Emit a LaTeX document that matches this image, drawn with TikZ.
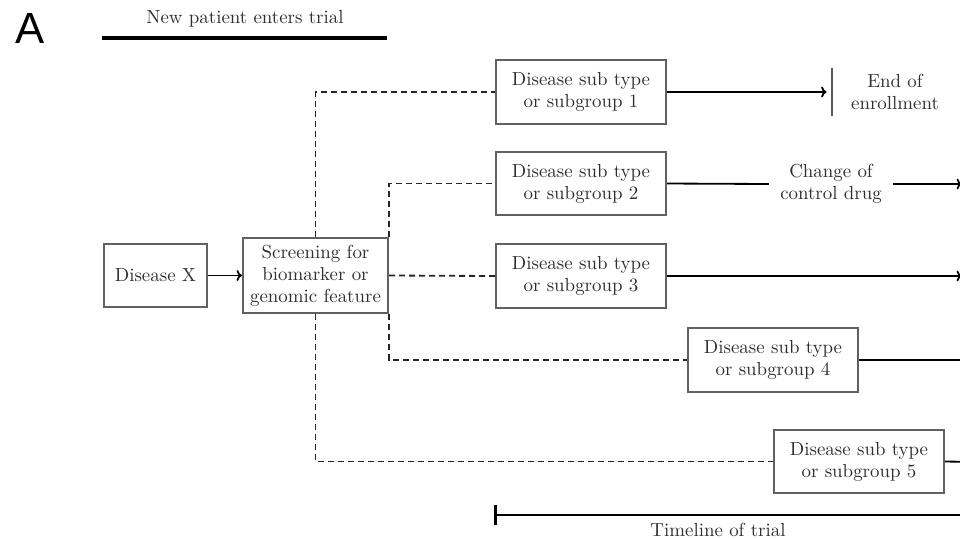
\documentclass[tikz,border=0pt]{standalone}
\usepackage{fontspec}
\newfontfamily\panelfont{Liberation Sans}
\usetikzlibrary{arrows.meta}
\begin{document}
\begin{tikzpicture}[x=0.55pt,y=-0.55pt,
  txt/.style={text=black!82, font=\fontsize{10.4}{12}\selectfont, align=center, inner sep=0pt},
  box/.style={txt, draw=black!62, line width=1.1pt, rectangle},
  subbox/.style={box, minimum width=93.5pt, minimum height=35pt},
  dashline/.style={dash pattern=on 3.3pt off 2.2pt, line width=1pt, black!85},
  flow/.style={line width=1pt, black},
  arr/.style={flow, -{To[length=3pt,width=6pt]}}]
\useasboundingbox (0,0) rectangle (960,538);
\clip (0,0) rectangle (960,538);

% panel letter and header
\node[font=\panelfont\fontsize{24}{28}\selectfont, inner sep=0pt] (panel) at (30.5,28) {A};
\node[txt] (newpat) at (245,19) {New patient enters trial};
\coordinate (hl) at (102,38);
\coordinate (hr) at (387,38);
\draw[line width=1.7pt] (hl) -- (hr);

% main boxes
\node[box, minimum width=56.6pt, minimum height=34.7pt] (dis) at (155.5,275.5) {Disease X};
\node[box, minimum width=79.8pt, minimum height=41.3pt] (scr) at (315.5,275.5) {Screening for\\biomarker or\\genomic feature};

\node[subbox] (s1) at (581,92) {Disease sub type\\or subgroup 1};
\node[subbox] (s2) at (581,183.5) {Disease sub type\\or subgroup 2};
\node[subbox] (s3) at (581,276) {Disease sub type\\or subgroup 3};
\node[subbox] (s4) at (773,360) {Disease sub type\\or subgroup 4};
\node[subbox] (s5) at (859,461.5) {Disease sub type\\or subgroup 5};

\draw[arr] (dis) -- (scr);

% dashed assignment lines
\draw[dashline] (scr.north) |- (s1.west);
\draw[dashline] (scr.south) |- (s5.west);
\draw[dashline] (scr.north east) |- (s2.west);
\draw[dashline] (scr.east) -- (s3.west);
\draw[dashline] (scr.south east) |- (s4.west);

% outcomes on the right
\coordinate (endbar) at (832,92);
\draw[line width=1.2pt, black!65] ([yshift=-13.2pt]endbar) -- ([yshift=13.2pt]endbar);
\draw[arr] (s1.east) -- ([xshift=-3pt]endbar);
\node[txt] (endtxt) at (895,92) {End of\\enrollment};

\node[txt] (chg) at (831,184) {Change of\\control drug};
\coordinate (e2) at (962,184);
\draw[flow] (s2.east) -- ([xshift=-6pt]chg.west);
\draw[arr] ([xshift=6pt]chg.east) -- (e2);

\coordinate (e3) at (962,276);
\draw[arr] (s3.east) -- (e3);
\coordinate (e4) at (966,360);
\draw[arr] (s4.east) -- (e4);
\coordinate (e5) at (980,462);
\draw[arr] (s5.east) -- (e5);

% timeline
\coordinate (tl) at (494,515);
\coordinate (tr) at (980,515);
\draw[line width=1.6pt, {Bar[width=11pt,line width=1.6pt]}-] (tl) -- (tr);
\node[txt] (tltxt) at (718,530) {Timeline of trial};
\end{tikzpicture}
\end{document}
